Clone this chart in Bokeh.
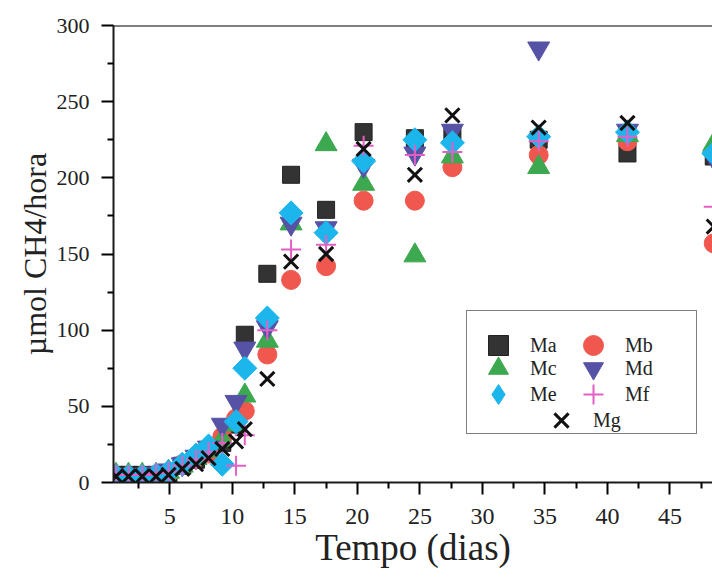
import numpy as np
from bokeh.plotting import figure
from bokeh.models import Legend, LegendItem, Span, FixedTicker
from bokeh.embed import file_html
from bokeh.resources import INLINE

# ---- data ----
days = [0.7, 1.7, 2.8, 3.9, 4.9, 6.0, 7.1, 8.1, 9.2, 10.3, 11.0,
        12.8, 14.7, 17.5, 20.5, 24.6, 27.6, 34.5, 41.6, 48.5]
Ma = [5, 5, 5, 5, 6, 11, 15, 20, 26, 38, 97, 137, 202, 179, 230, 226, 229, 225, 216, 214]
Mb = [4, 4, 4, 5, 6, 12, 16, 19, 30, 42, 47, 84, 133, 142, 185, 185, 207, 215, 224, 157]
Mc = [5, 5, 5, 5, 7, 11, 16, 21, 28, 38, 57, 93, 170, 222, 196, 149, 214, 207, 228, 222]
Md = [5, 5, 5, 6, 8, 12, 17, 23, 38, 53, 88, 102, 170, 167, 208, 216, 231, 285, 231, 213]
Me = [4, 4, 4, 5, 7, 12, 18, 24, 12, 40, 75, 108, 177, 164, 211, 225, 223, 227, 230, 216]
Mf = [5, 5, 5, 6, 7, 11, 15, 20, 26, 11, 31, 100, 153, 156, 221, 215, 217, 224, 227, 181]
Mg = [4, 4, 4, 4, 5, 9, 12, 16, 22, 27, 35, 68, 145, 150, 219, 202, 241, 233, 236, 168]

x_ticks = [5, 10, 15, 20, 25, 30, 35, 40, 45]
x_minor = [2.5, 7.5, 12.5, 17.5, 22.5, 27.5, 32.5, 37.5, 42.5, 47.5]
y_ticks = [0, 50, 100, 150, 200, 250, 300]
y_minor = [25, 75, 125, 175, 225, 275]

FONT = "Liberation Serif"
TXT = "#222222"

p = figure(width=712, height=570, x_range=(0.5, 48.4), y_range=(0, 300),
           output_backend="svg", toolbar_location=None,
           min_border_left=113, min_border_right=0, min_border_top=25, min_border_bottom=86)
p.outline_line_color = None
p.grid.visible = False
p.background_fill_color = "white"
p.border_fill_color = "white"

p.add_layout(Span(location=300, dimension="width", line_color="black", line_width=2))

for ax, t, m in ((p.xaxis, x_ticks, x_minor), (p.yaxis, y_ticks, y_minor)):
    ax.ticker = FixedTicker(ticks=t, minor_ticks=m)
    ax.axis_line_width = 2
    ax.axis_line_color = "#1a1a1a"
    ax.major_tick_in = 0
    ax.major_tick_out = 12
    ax.minor_tick_in = 0
    ax.minor_tick_out = 6
    ax.major_tick_line_width = 2
    ax.minor_tick_line_width = 2
    ax.major_label_text_font = FONT
    ax.major_label_text_color = TXT
    ax.axis_label_text_font = FONT
    ax.axis_label_text_font_style = "normal"
    ax.axis_label_text_color = TXT

p.xaxis.major_label_text_font_size = "24px"
p.yaxis.major_label_text_font_size = "22px"
p.xaxis.axis_label_text_font_size = "37px"
p.yaxis.axis_label_text_font_size = "32px"
p.xaxis.axis_label = "Tempo (dias)"
p.yaxis.axis_label = "µmol CH4/hora"
p.xaxis.major_label_standoff = 14
p.xaxis.axis_label_standoff = 0
p.yaxis.major_label_standoff = 12
p.yaxis.axis_label_standoff = 1

C_MA, C_MB, C_MC, C_MD = "#333333", "#f0584f", "#3ca84f", "#5653a6"
C_ME, C_MF, C_MG = "#1cb6ec", "#e35fc5", "#111111"

r_ma = p.scatter(days, Ma, marker="square", size=17, fill_color=C_MA, line_color="#222222")
r_mb = p.scatter(days, Mb, marker="circle", size=19, fill_color=C_MB, line_color=C_MB)
r_mc = p.scatter(days, Mc, marker="triangle", size=22, fill_color=C_MC, line_color=C_MC)
r_md = p.scatter(days, Md, marker="inverted_triangle", size=22, fill_color=C_MD, line_color=C_MD)
r_me = p.scatter(days, Me, marker="square", angle=np.pi / 4, size=17, fill_color=C_ME, line_color=C_ME)
r_mf = p.scatter(days, Mf, marker="cross", size=20, line_color=C_MF, line_width=2)
r_mg = p.scatter(days, Mg, marker="x", size=20, line_color=C_MG, line_width=3)

# legend-only proxies (draw nothing on the plot)
r_blank = p.scatter(x=[], y=[], marker="circle", fill_alpha=0, line_alpha=0)
r_me_leg = p.scatter(days, Me, marker="diamond", size=0, fill_color=C_ME, line_color=C_ME)

# legend frame
box = Legend(items=[LegendItem(label=" ", renderers=[r_blank])],
             location=(353, 48), padding=0, margin=0,
             glyph_width=1, glyph_height=122, label_standoff=0,
             label_width=228, label_height=122, label_text_font_size="4px",
             border_line_color="black", border_line_width=1.5,
             background_fill_color="white", background_fill_alpha=1)
p.add_layout(box)


def row_legend(items, x, y):
    return Legend(items=items, orientation="horizontal", location=(x, y),
                  padding=0, margin=0, spacing=4, glyph_width=50, glyph_height=50,
                  label_standoff=7, label_width=34, label_text_font=FONT,
                  label_text_font_size="20px", label_text_color=TXT,
                  border_line_color=None, background_fill_alpha=0)


p.add_layout(row_legend([LegendItem(label="Ma", renderers=[r_ma]),
                         LegendItem(label="Mb", renderers=[r_mb])], 360, 112))
p.add_layout(row_legend([LegendItem(label="Mc", renderers=[r_mc]),
                         LegendItem(label="Md", renderers=[r_md])], 360, 89))
p.add_layout(row_legend([LegendItem(label="Me", renderers=[r_me_leg]),
                         LegendItem(label="Mf", renderers=[r_mf])], 360, 63))
p.add_layout(row_legend([LegendItem(label="Mg", renderers=[r_mg])], 423, 37))

open("out.html", "w").write(file_html(p, INLINE))
